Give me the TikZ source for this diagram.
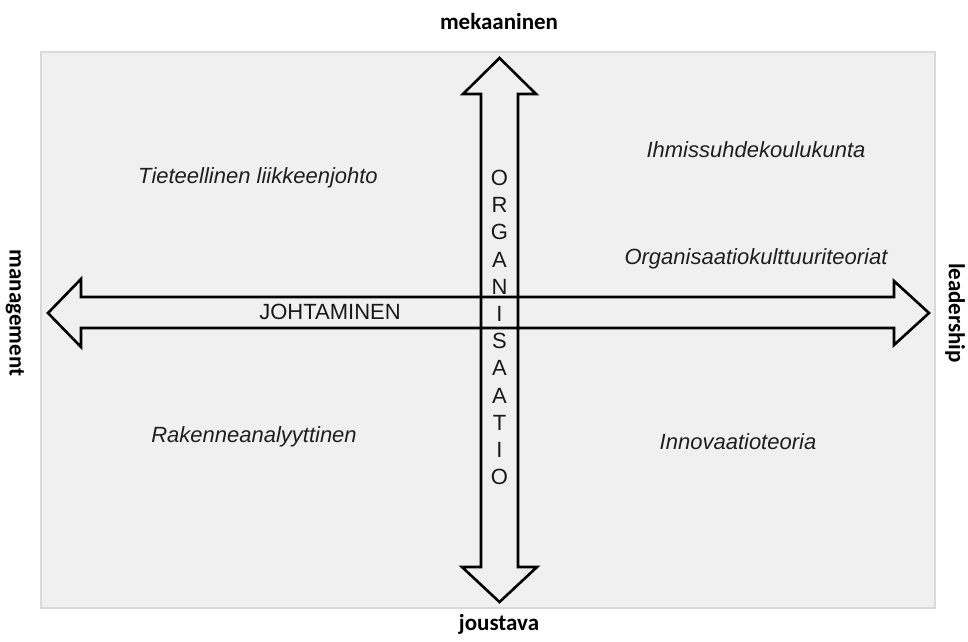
\documentclass[tikz,border=0pt]{standalone}
\usepackage{fontspec}
\setmainfont{Liberation Sans}
\newfontfamily\axisfont{Carlito}
\begin{document}
\begin{tikzpicture}[x=1pt,y=-1pt,
  axislab/.style={font=\axisfont\bfseries\fontsize{23}{27}\selectfont, inner sep=0pt},
  quad/.style={font=\itshape\fontsize{22}{26}\selectfont, text=black!88, inner sep=0pt},
  plain/.style={font=\fontsize{22}{26}\selectfont, text=black!90, inner sep=0pt},
  arrowline/.style={draw=black, line width=2.6pt, line join=miter}]
\useasboundingbox (0,0) rectangle (968,641);
\fill[white] (0,0) rectangle (968,641);
\draw[draw=black!15, fill=black!6, line width=2.5pt] (41,52) rectangle (935,608);
% vertical double arrow
\draw[arrowline] (499.5,58) -- (536,94) -- (518,94) -- (518,567) -- (537,567)
  -- (499.5,602) -- (462,567) -- (481,567) -- (481,94) -- (463,94) -- cycle;
% horizontal double arrow
\draw[arrowline] (48,313) -- (81,279) -- (81,297) -- (894,297) -- (894,281)
  -- (929,313) -- (894,345) -- (894,328) -- (81,328) -- (81,347) -- cycle;
% axis labels
\node[axislab] (mek) at (499,22) {mekaaninen};
\node[axislab] (jou) at (499,624) {joustava};
\node[axislab, rotate=-90] (man) at (15,313) {management};
\node[axislab, rotate=-90] (lea) at (955,313) {leadership};
% quadrant labels
\node[quad] (tie) at (258,178) {Tieteellinen liikkeenjohto};
\node[quad] (ihm) at (756,150) {Ihmissuhdekoulukunta};
\node[quad] (org) at (756,259) {Organisaatiokulttuuriteoriat};
\node[quad] (rak) at (254,437) {Rakenneanalyyttinen};
\node[quad] (inn) at (738,442) {Innovaatioteoria};
% arrow labels
\node[plain] (joh) at (330,312) {JOHTAMINEN};
\foreach \l [count=\i] in {O,R,G,A,N,I,S,A,A,T,I,O} {
  \node[plain] (o\i) at (499.5,{178+27.2*(\i-1)}) {\l};
}
\end{tikzpicture}
\end{document}
